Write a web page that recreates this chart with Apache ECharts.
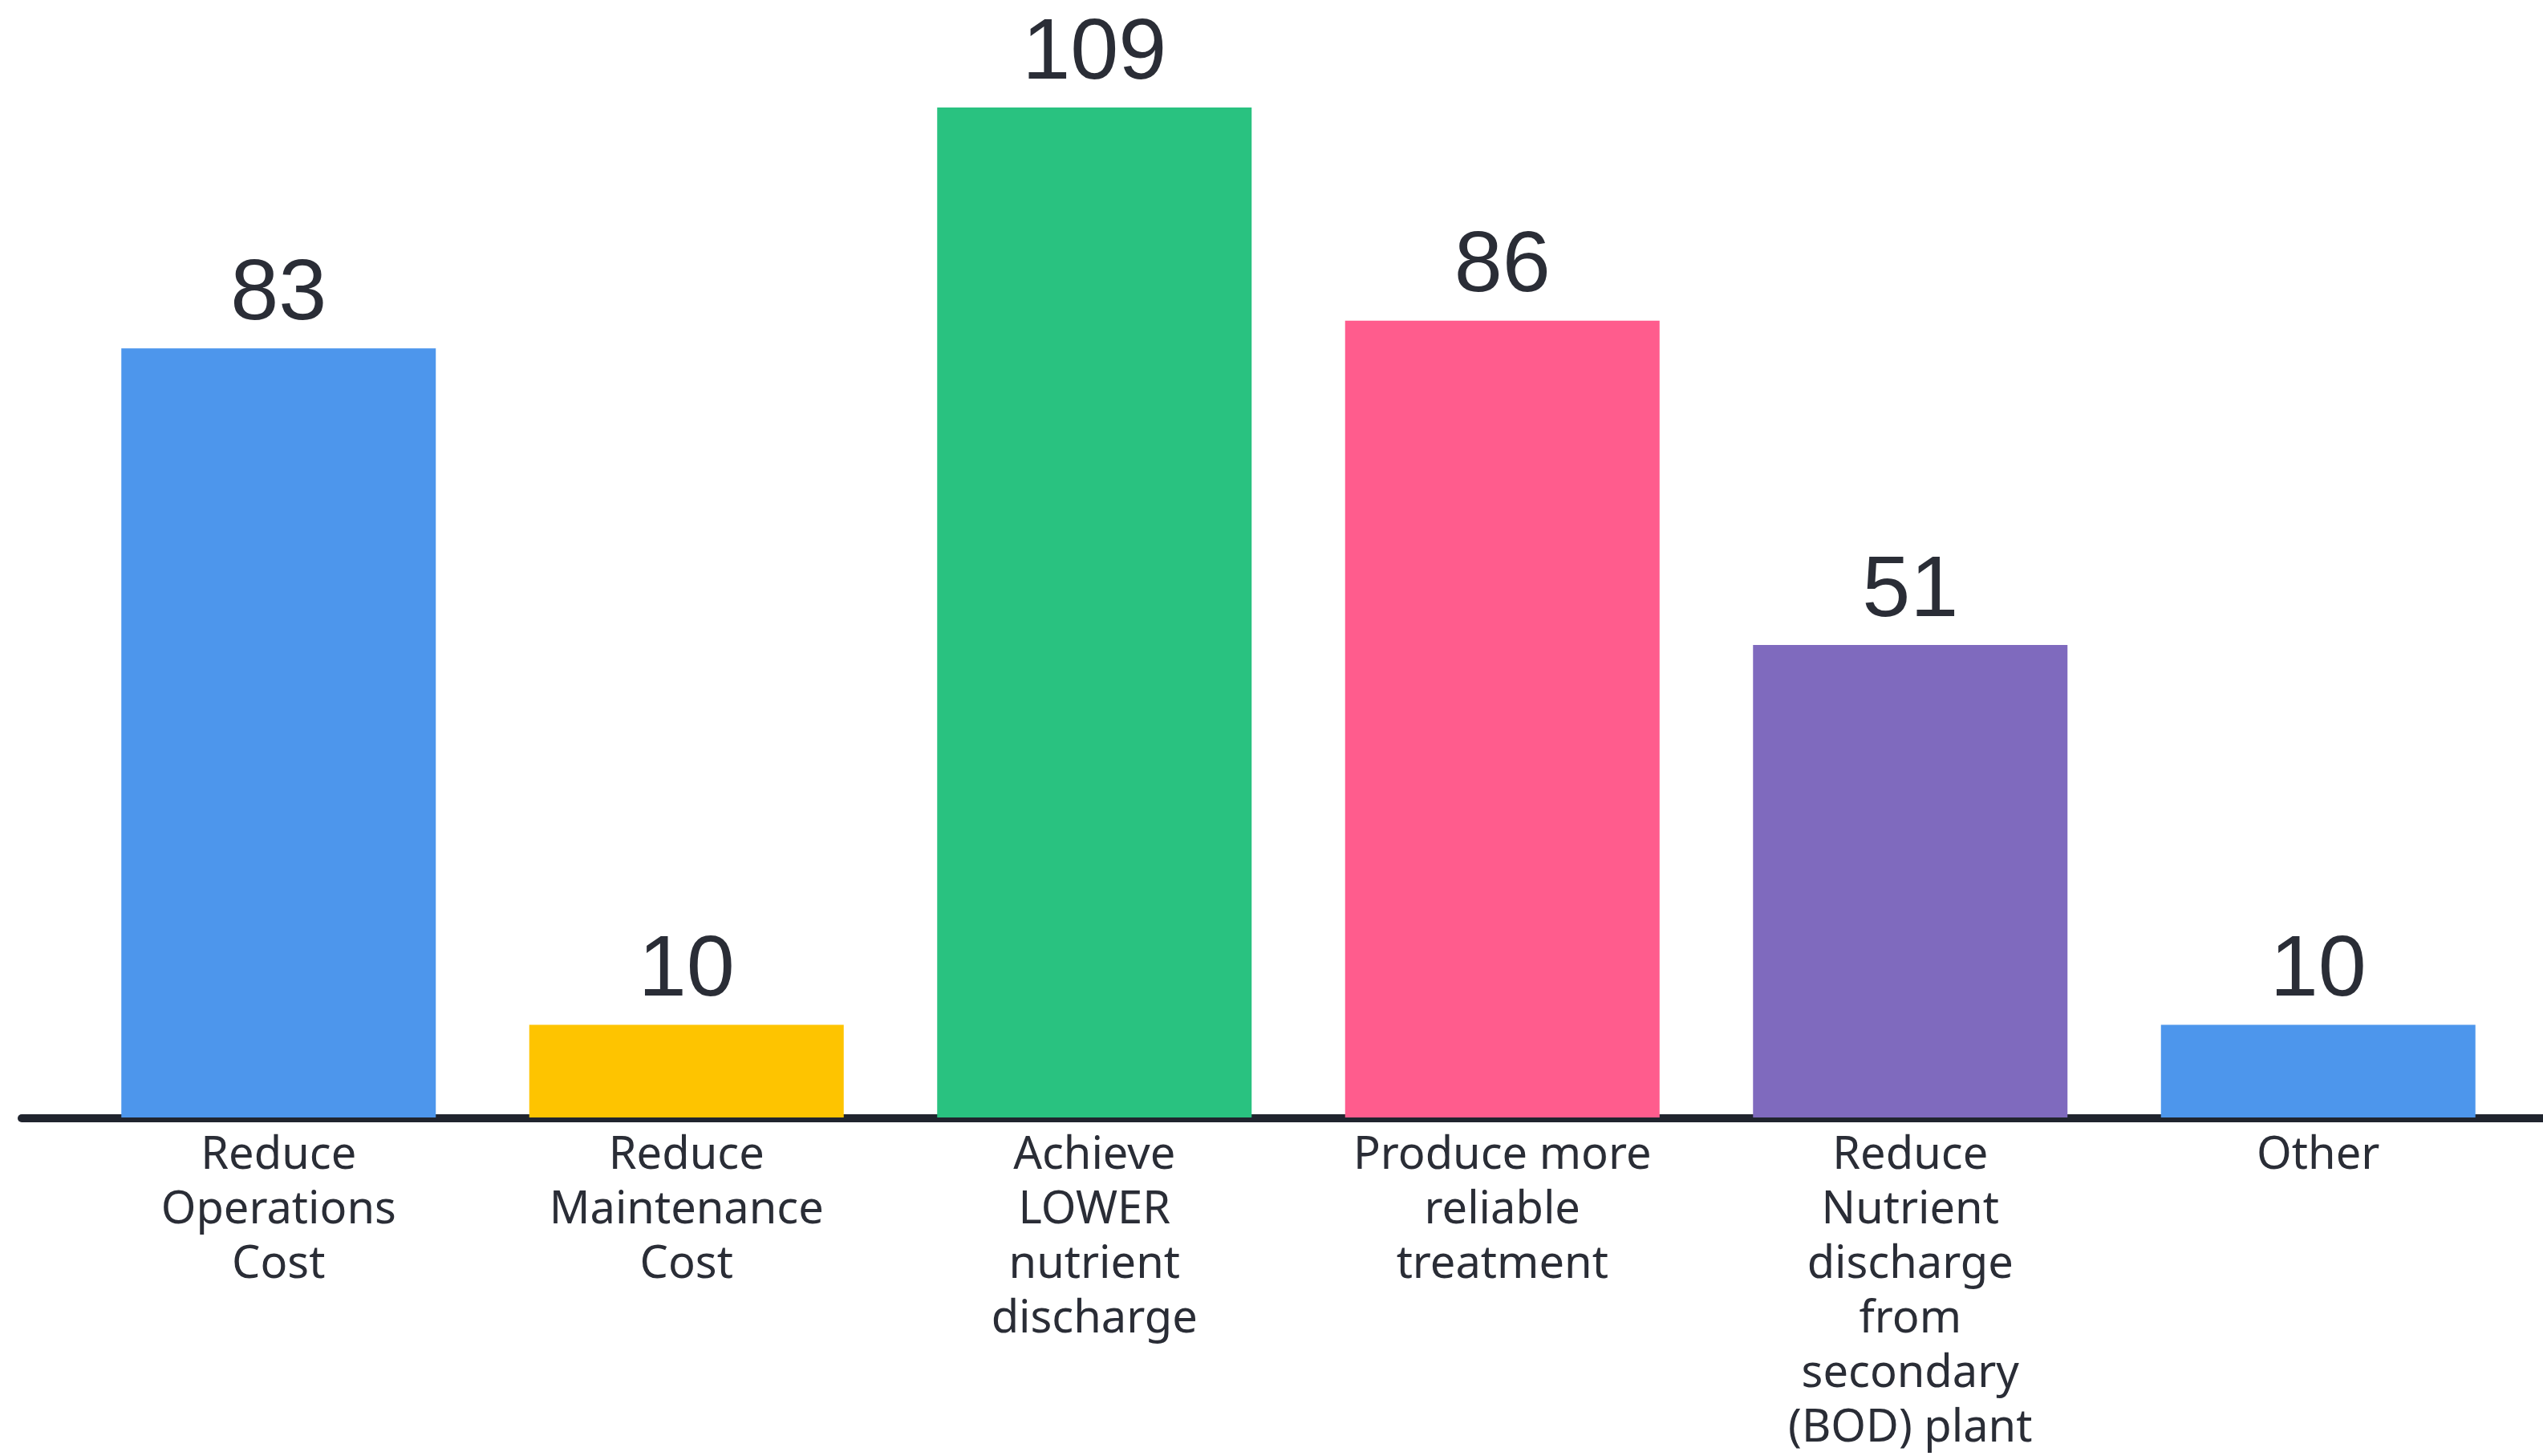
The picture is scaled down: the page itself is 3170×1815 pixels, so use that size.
<!DOCTYPE html>
<html>
<head>
<meta charset="utf-8">
<script src="https://cdn.jsdelivr.net/npm/echarts@6/dist/echarts.min.js"></script>
<style>
  html, body { margin: 0; padding: 0; background: #ffffff; }
  #chart { width: 3170px; height: 1815px; }
</style>
</head>
<body>
<div id="chart"></div>
<script>
// Reasons given for the upgrade, and how many respondents chose each
const categories = [
  'Reduce\nOperations\nCost',
  'Reduce\nMaintenance\nCost',
  'Achieve\nLOWER\nnutrient\ndischarge',
  'Produce more\nreliable\ntreatment',
  'Reduce\nNutrient\ndischarge\nfrom\nsecondary\n(BOD) plant',
  'Other'
];
const counts = [83, 10, 109, 86, 51, 10];
const barColors = ['#4d96ec', '#fec400', '#29c280', '#ff5c8d', '#7f6abe', '#4d96ec'];

const textColor = '#2a2d36';

const chart = echarts.init(document.getElementById('chart'), null, { renderer: 'canvas' });

chart.setOption({
  backgroundColor: '#ffffff',
  animation: false,
  grid: [
    // bars
    { left: 93, right: 26, top: 7, bottom: 421, containLabel: false },
    // full-width baseline rule
    { left: 27, right: 0, top: 1300, bottom: 421, containLabel: false }
  ],
  xAxis: [
    {
      type: 'category',
      gridIndex: 0,
      data: categories,
      axisLine: { show: false },
      axisTick: { show: false },
      axisLabel: {
        interval: 0,
        margin: 14,
        color: textColor,
        fontFamily: 'Noto Sans',
        fontWeight: 'normal',
        fontSize: 56,
        lineHeight: 68,
        align: 'center',
        verticalAlign: 'top'
      }
    },
    {
      type: 'value',
      gridIndex: 1,
      min: 0,
      max: 1,
      axisLine: { show: true, lineStyle: { color: '#20242e', width: 10 } },
      axisTick: { show: false },
      axisLabel: { show: false },
      splitLine: { show: false }
    }
  ],
  yAxis: [
    {
      type: 'value',
      gridIndex: 0,
      min: 0,
      max: 120,
      show: false,
      splitLine: { show: false }
    },
    {
      type: 'value',
      gridIndex: 1,
      min: 0,
      max: 1,
      show: false,
      splitLine: { show: false }
    }
  ],
  series: [
    {
      type: 'bar',
      xAxisIndex: 0,
      yAxisIndex: 0,
      barWidth: 392,
      data: counts.map((v, i) => ({ value: v, itemStyle: { color: barColors[i] } })),
      label: {
        show: true,
        position: 'top',
        distance: 12,
        color: textColor,
        fontFamily: 'Liberation Sans',
        fontSize: 108
      },
      z: 2
    }
  ]
});
</script>
</body>
</html>
